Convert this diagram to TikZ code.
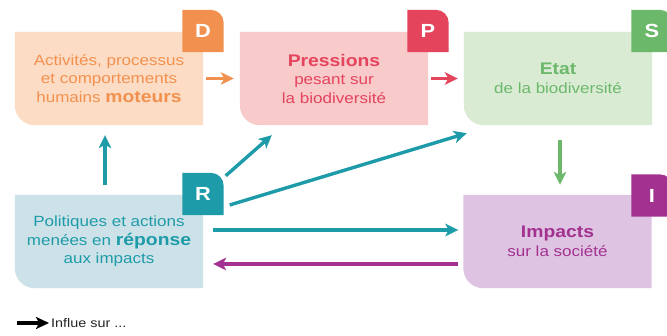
\documentclass[tikz,border=0pt]{standalone}
\usepackage{fontspec}
\setmainfont{Liberation Sans}[FakeStretch=1.15]
\usetikzlibrary{arrows.meta,backgrounds}
\definecolor{dfill}{HTML}{FCDCC4}
\definecolor{dcol}{HTML}{F2914F}
\definecolor{pfill}{HTML}{F8CACA}
\definecolor{pcol}{HTML}{E4445C}
\definecolor{sfill}{HTML}{DAEBD4}
\definecolor{scol}{HTML}{6CB86A}
\definecolor{rfill}{HTML}{CDE2E8}
\definecolor{rcol}{HTML}{1E9BA9}
\definecolor{ifill}{HTML}{DEC4E2}
\definecolor{icol}{HTML}{A2318F}
\newcommand{\nrm}{\fontsize{14.8}{18.5}\selectfont}
\newcommand{\bigb}{\fontsize{16.8}{18.5}\selectfont\bfseries}
\newcommand{\boxshape}[2]{\fill[#2] (#1.north west) -- (#1.north east) -- (#1.south east) -- ([xshift=20pt]#1.south west) arc[start angle=270,end angle=180,radius=20pt] -- cycle;}
\newcommand{\badgeshape}[2]{\fill[#2] (#1.south west) -- (#1.north west) -- ([xshift=-13pt]#1.north east) arc[start angle=90,end angle=0,radius=13pt] -- (#1.south east) -- cycle;}
\begin{document}
\begin{tikzpicture}[x=1pt,y=1pt,
  box/.style={minimum width=188pt,minimum height=93pt,inner sep=0pt,align=center,font=\nrm},
  badge/.style={minimum width=41pt,minimum height=42pt,inner sep=0pt,text=white,font=\fontsize{19}{19}\selectfont\bfseries},
  arr/.style={line width=3.4pt,-{Stealth[length=13pt,width=12.5pt,inset=3.5pt]}}]
\clip (0,0) rectangle (667,336);
% boxes
\node[box,text=dcol] (D) at (109,257.5) {Activités, processus\\et comportements\\humains {\bigb moteurs}};
\node[box,text=pcol] (P) at (334,257.5) {{\bigb Pressions}\\pesant sur\\la biodiversité};
\node[box,text=scol] (S) at (558,257.5) {{\bigb Etat}\\de la biodiversité};
\node[box,text=rcol] (R) at (109,94.5) {Politiques et actions\\menées en {\bigb réponse}\\aux impacts};
\node[box,text=icol] (I) at (557.5,94.5) {{\bigb Impacts}\\sur la société};
% badges
\node[badge] (Db) at (203,305) {D};
\node[badge] (Pb) at (428,305) {P};
\node[badge] (Sb) at (652,305) {S};
\node[badge] (Rb) at (203,142) {R};
\node[badge] (Ib) at (652,140.5) {I};
\begin{scope}[on background layer]
  \fill[white] (0,0) rectangle (667,336);
  \boxshape{D}{dfill}
  \boxshape{P}{pfill}
  \boxshape{S}{sfill}
  \boxshape{R}{rfill}
  \boxshape{I}{ifill}
  \badgeshape{Db}{dcol}
  \badgeshape{Pb}{pcol}
  \badgeshape{Sb}{scol}
  \badgeshape{Rb}{rcol}
  \badgeshape{Ib}{icol}
\end{scope}
% connectors
\draw[arr,dcol] ([xshift=3pt]D.east) -- ([xshift=-6pt]P.west);
\draw[arr,pcol] ([xshift=3pt]P.east) -- ([xshift=-6pt]S.west);
\draw[arr,scol] ([xshift=2pt,yshift=-15pt]S.south) -- ([xshift=2pt,yshift=10pt]S.south |- I.north);
\draw[arr,rcol] ([xshift=-4pt,yshift=10pt]R.north) -- ([xshift=-4pt,yshift=-10pt]R.north |- D.south);
\draw[arr,rcol] ([xshift=2pt,yshift=-3pt]Rb.north east) -- ([xshift=32pt,yshift=-10pt]P.south west);
\draw[arr,rcol] ([xshift=6pt,yshift=-11pt]Rb.east) -- ([xshift=3pt,yshift=-8pt]S.south west);
\draw[arr,rcol] ([xshift=10pt,yshift=11.5pt]R.east) -- ([xshift=-5pt,yshift=11.5pt]I.west);
\draw[arr,icol] ([xshift=-5pt,yshift=-22.5pt]I.west) -- ([xshift=10pt,yshift=-22.5pt]R.east);
% legend
\node[anchor=west,inner sep=2pt,font=\fontsize{12.5}{14}\selectfont,text=black!85] (leg) at (49,13) {Influe sur ...};
\coordinate (legs) at (17,13);
\draw[line width=3.2pt,-{Stealth[length=13pt,width=12pt,inset=3pt]}] (legs) -- (leg.west);
\end{tikzpicture}
\end{document}
